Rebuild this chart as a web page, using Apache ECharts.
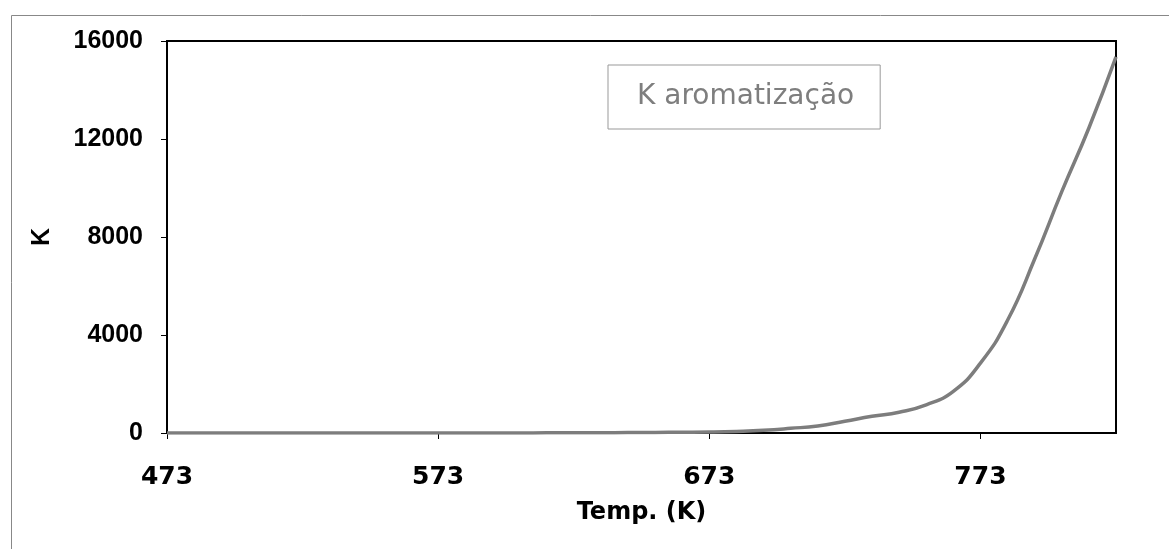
<!DOCTYPE html>
<html>
<head>
<meta charset="utf-8">
<script src="https://cdn.jsdelivr.net/npm/echarts@6/dist/echarts.min.js"></script>
<style>
  html, body { margin: 0; padding: 0; background: #fff; }
  #chart_box { width: 1169px; height: 549px; }
</style>
</head>
<body>
<div id="chart_box"></div>
<script>
// temperatura (K) - categorias
var tempData = ["473","483","493","503","513","523","533","543","553","563",
                "573","583","593","603","613","623","633","643","653","663",
                "673","683","693","703","713","723","733","743","753","763",
                "773","783","793","803","813","823"];
// K aromatização
var kArom = [0,0,0,0,0,0,0,0,0,1,
             1,2,3,4,6,8,11,16,22,30,
             40,65,110,190,290,480,680,850,1150,1700,
             2850,4600,7100,9850,12450,15350];
var yTicks = [0,4000,8000,12000,16000];
var serieName = 'K aromatização';

var myChart = echarts.init(document.getElementById('chart_box'));
var font = '"Liberation Sans", Arial, sans-serif';
var wideFont = '"DejaVu Sans", sans-serif';

var option = {
  animation: false,
  backgroundColor: '#fff',
  graphic: [{
    type: 'rect',
    left: 9, top: 13,
    shape: { width: 1200, height: 600 },
    style: { fill: 'none', stroke: '#888', lineWidth: 1 },
    silent: true
  }],
  legend: {
    data: [serieName],
    left: 608,
    top: 65,
    icon: 'rect',
    itemWidth: 0,
    itemHeight: 0,
    padding: [18, 26, 18, 24],
    borderColor: '#999',
    borderWidth: 1,
    textStyle: {
      color: '#7e7e7e',
      fontSize: 28,
      fontFamily: wideFont
    }
  },
  grid: {
    left: 167,
    top: 41,
    right: 53,
    bottom: 116,
    show: true,
    borderColor: '#000',
    borderWidth: 2
  },
  xAxis: {
    type: 'category',
    data: tempData,
    boundaryGap: false,
    name: 'Temp. (K)',
    nameLocation: 'middle',
    nameGap: 68,
    nameTextStyle: { color: '#000', fontSize: 24, fontWeight: 'bold', fontFamily: wideFont },
    axisLine: { lineStyle: { color: '#000', width: 2 } },
    axisTick: { interval: 9, length: 6, lineStyle: { color: '#000' } },
    axisLabel: {
      interval: 9,
      margin: 32,
      color: '#000',
      fontSize: 25,
      fontWeight: 'bold',
      fontFamily: wideFont
    },
    splitLine: { show: false }
  },
  yAxis: {
    type: 'value',
    min: yTicks[0],
    max: yTicks[yTicks.length - 1],
    interval: 4000,
    name: 'K',
    nameLocation: 'middle',
    nameRotate: 90,
    nameGap: 112,
    nameTextStyle: { color: '#000', fontSize: 25, fontWeight: 'bold', fontFamily: font },
    axisLine: { show: true, lineStyle: { color: '#000', width: 2 } },
    axisTick: { show: true, length: 6, lineStyle: { color: '#000' } },
    axisLabel: {
      margin: 24,
      color: '#000',
      fontSize: 25,
      fontWeight: 'bold',
      fontFamily: font,
      formatter: function (v) { return String(v); }
    },
    splitLine: { show: false }
  },
  series: [{
    name: serieName,
    type: 'line',
    data: kArom,
    smooth: true,
    symbol: 'none',
    lineStyle: { color: '#7d7d7d', width: 3.5 },
    itemStyle: { color: '#7d7d7d' }
  }]
};
myChart.setOption(option);
</script>
</body>
</html>
